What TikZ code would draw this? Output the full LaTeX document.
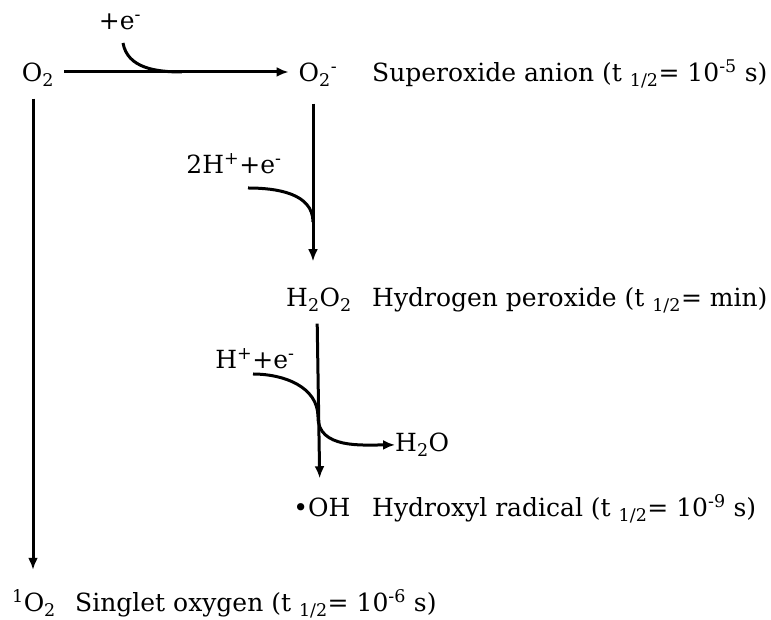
\documentclass[tikz,border=0pt]{standalone}
\usepackage{fontspec}
\setmainfont{DejaVu Serif}
\usetikzlibrary{arrows.meta,positioning,calc}
\tikzset{
  species/.style={anchor=base, inner sep=0pt, font=\fontsize{25}{30}\selectfont},
  species name/.style={anchor=base west, inner sep=0pt, font=\fontsize{25}{30}\selectfont},
  rxn/.style={line width=3pt, -{Latex[length=12pt,width=10pt]}},
  feed/.style={line width=3pt},
}

\begin{document}
\begin{tikzpicture}[x=1pt,y=1pt]
    \useasboundingbox (0,0) rectangle (771,620);

    % Spezies
    \node[species] (o2) at (38,538) {O\textsubscript{2}};
    \node[species] (sup) at (318,538) {O\textsubscript{2}\textsuperscript{-}};
    \node[species] (hp) at (319,313) {H\textsubscript{2}O\textsubscript{2}};
    \node[species] (oh) at (322,103) {•OH};
    \node[species] (singlet) at (34,8) {\textsuperscript{1}O\textsubscript{2}};
    \node[species name] (water) at (395,168) {H\textsubscript{2}O};

    % Bezeichnungen
    \node[species name] at (372,538) {Superoxide anion (t \textsubscript{1/2}= 10\textsuperscript{-5} s)};
    \node[species name] at (372,313) {Hydrogen peroxide (t \textsubscript{1/2}= min)};
    \node[species name] at (372,103) {Hydroxyl radical (t \textsubscript{1/2}= 10\textsuperscript{-9} s)};
    \node[species name] at (75,8) {Singlet oxygen (t \textsubscript{1/2}= 10\textsuperscript{-6} s)};

    % Reaktanden
    \node[species] (e1) at (120,590) {+e\textsuperscript{-}};
    \node[species] (e2) at (234,446) {2H\textsuperscript{+}+e\textsuperscript{-}};
    \node[species] (e3) at (255,251) {H\textsuperscript{+}+e\textsuperscript{-}};

    \coordinate (s1) at (123,577);
    \coordinate (j1) at (182,548);
    \coordinate (s2) at (248,432);
    \coordinate (j2) at (313,398);
    \coordinate (s3) at (253,246);
    \coordinate (j3) at (318,203);

    % Hauptpfeile
    \draw[rxn, shorten <=10pt, shorten >=10pt] (o2.east |- j1) -- (sup.west |- j1);
    \draw[rxn, shorten <=12pt, shorten >=20pt] ([xshift=-5pt]o2.south) -- ([xshift=-5pt]o2.south |- singlet.north);
    \draw[rxn, shorten <=17pt, shorten >=27pt] ([xshift=-5pt]sup.south) -- ([xshift=-5pt]sup.south |- hp.north);
    \draw[rxn, shorten <=12pt, shorten >=20pt] ([xshift=-2pt]hp.south) -- ([xshift=-2pt]oh.north);

    % Zufuhr
    \draw[feed] (s1) to[out=-80, in=180] (j1);
    \draw[feed] (s2) to[out=0, in=90] (j2);
    \draw[rxn] (s3) to[out=0, in=90] (j3) to[out=-90, in=180] (water.west);
\end{tikzpicture}
\end{document}
